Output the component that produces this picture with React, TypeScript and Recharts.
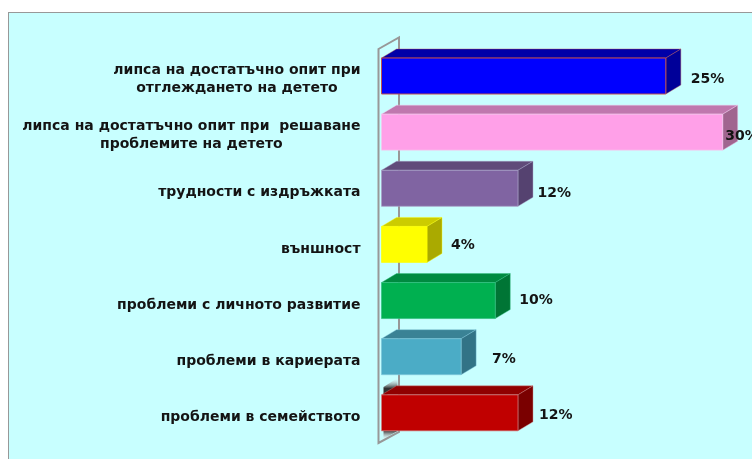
import React from "react";
import { BarChart, Bar, XAxis, YAxis, LabelList, ReferenceArea } from "recharts";

const categories = [
  "липса на достатъчно опит при\nотглеждането на детето",
  "липса на достатъчно опит при  решаване\nпроблемите на детето",
  "трудности с издръжката",
  "външност",
  "проблеми с личното развитие",
  "проблеми в кариерата",
  "проблеми в семейството",
];
const values = [25, 30, 12, 4, 10, 7, 12];

const frontColors = ["#0000FF", "#FFA0E8", "#8064A2", "#FFFF00", "#00B050", "#4BACC6", "#C00000"];
const topColors = ["#0000A8", "#BF78AE", "#604B7A", "#CCCC00", "#008A40", "#3A8295", "#900000"];
const sideColors = ["#000099", "#A0658F", "#554270", "#AAAA00", "#007535", "#327386", "#7A0000"];
const edgeColors = ["#C0504D", "#F5C8EE", "#A9A0C6", "#FFFF00", "#30C080", "#7CC4D8", "#D08080"];
const labelGaps = [25, 2.5, 19.5, 24, 24, 31, 21];
const labelShifts = [2, 2.5, 4, 0, -2, 1.5, 1];

const data = categories.map((name, i) => ({ name, value: values[i] }));

const DEPTH_X = 15;
const DEPTH_Y = 9;
const FONT = "'DejaVu Sans', sans-serif";

const measure = (s: string) => {
  const c = document.createElement("canvas").getContext("2d")!;
  c.font = `bold 14px 'DejaVu Sans'`;
  return c.measureText(s).width;
};

const Box = (p: any) => {
  const { x, y, width: w, height: h, index: i } = p;
  const dx = DEPTH_X, dy = DEPTH_Y;
  return (
    <g strokeLinejoin="round">
      <polygon points={`${x},${y} ${x + dx},${y - dy} ${x + w + dx},${y - dy} ${x + w},${y}`} fill={topColors[i]} stroke={edgeColors[i]} strokeOpacity={0.6} strokeWidth={0.7} />
      <polygon points={`${x + w},${y} ${x + w + dx},${y - dy} ${x + w + dx},${y + h - dy} ${x + w},${y + h}`} fill={sideColors[i]} stroke={edgeColors[i]} strokeOpacity={0.6} strokeWidth={0.7} />
      <rect x={x} y={y} width={w} height={h} fill={frontColors[i]} stroke={edgeColors[i]} strokeWidth={i === 0 ? 1 : 0.7} />
    </g>
  );
};

const Wall = (p: any) => {
  const { x, y, height: h } = p;
  const l = x - 3, r = x + 17.5, t = y + 1, b = y + h + 2;
  return (
    <g>
      <defs>
        <linearGradient id="shadowTop" x1="0" y1="0" x2="0" y2="1">
          <stop offset="0" stopColor="#ffffff" stopOpacity={0.1} />
          <stop offset="0.55" stopColor="#303030" />
          <stop offset="1" stopColor="#303030" />
        </linearGradient>
        <linearGradient id="shadowBottom" x1="0" y1="0" x2="0" y2="1">
          <stop offset="0" stopColor="#404040" />
          <stop offset="1" stopColor="#ffffff" stopOpacity={0.4} />
        </linearGradient>
      </defs>
      <polygon points={`${x + 2},${b - 56} ${x + 16},${b - 65} ${x + 16},${b - 55} ${x + 2},${b - 46}`} fill="url(#shadowTop)" />
      <polygon points={`${x + 2},${b - 12} ${x + 16},${b - 12} ${x + 2},${b - 4}`} fill="url(#shadowBottom)" />
      <polygon points={`${l},${t} ${r},${t - 11.5} ${r},${b - 11} ${l},${b}`} fill="none" stroke="#989898" strokeWidth={2} />
    </g>
  );
};

const Tick = (p: any) => {
  const { x, y, payload } = p;
  const lines = String(payload.value).split("\n");
  const right = x - 13;
  const multi = lines.length > 1;
  const cx = multi ? right - Math.max(...lines.map(measure)) / 2 : right;
  const top = y + (multi ? 2 : 3) - ((lines.length - 1) * 18) / 2;
  return (
    <text textAnchor={multi ? "middle" : "end"} fontFamily={FONT} fontSize={14} fontWeight="bold" fill="#141414" style={{ whiteSpace: "pre" }}>
      {lines.map((l, i) => (
        <tspan key={i} x={cx} y={top + i * 18} dy="0.36em">{l}</tspan>
      ))}
    </text>
  );
};

const ValueLabel = (p: any) => {
  const { x, y, width, height, value, index } = p;
  return (
    <text x={x + width + labelGaps[index]} y={y + height / 2 + labelShifts[index]} dy="0.36em" fontFamily={FONT} fontSize={14} fontWeight="bold" fill="#141414">
      {value}%
    </text>
  );
};

export default function App() {
  return (
    <div style={{ position: "absolute", left: 0, top: 0, width: 752, height: 459, overflow: "hidden", background: "#fff" }}>
      <div style={{ position: "absolute", left: 8, top: 12, width: 800, height: 500, boxSizing: "border-box", border: "1.5px solid #989898", background: "#C8FFFF" }} />
      <div style={{ position: "absolute", left: 0, top: 0, filter: "blur(0.4px)" }}>
        <BarChart width={752} height={459} layout="vertical" data={data} margin={{ top: 48, right: 29.3, bottom: 18, left: 0.5 }} barSize={36} style={{ overflow: "visible" }}>
          <XAxis type="number" domain={[0, 30]} hide />
          <YAxis type="category" dataKey="name" width={381} axisLine={false} tickLine={false} interval={0} tick={<Tick />} />
          <ReferenceArea x1={0} x2={30} shape={<Wall />} ifOverflow="visible" />
          <Bar dataKey="value" shape={<Box />} isAnimationActive={false}>
            <LabelList dataKey="value" content={<ValueLabel />} />
          </Bar>
        </BarChart>
      </div>
    </div>
  );
}
